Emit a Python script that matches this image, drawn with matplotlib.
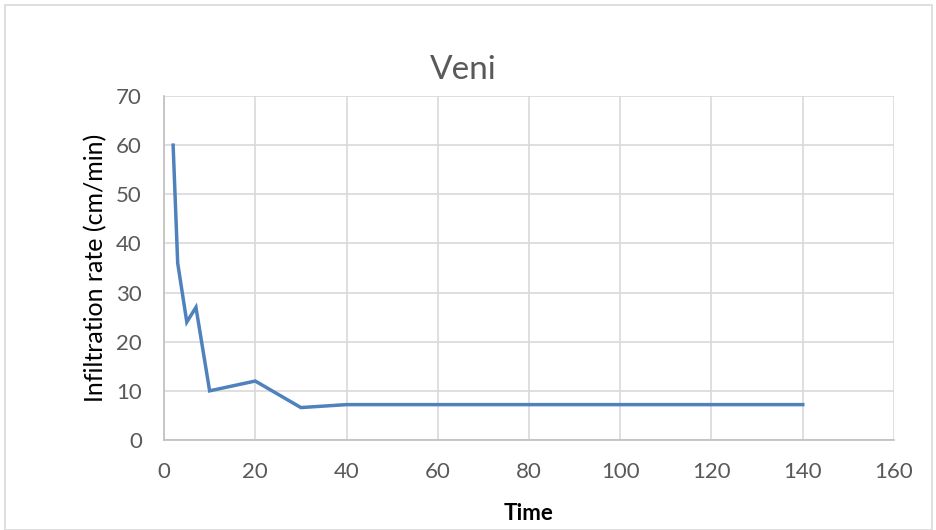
import matplotlib.pyplot as plt
from matplotlib.patches import Rectangle

plt.rcParams['font.family'] = ['Lato', 'DejaVu Sans']

time = [2, 3, 5, 7, 10, 15, 20, 30, 40, 60, 80, 100, 120, 140]
rate = [60, 36, 24, 27, 10, 11, 12, 6.6, 7.2, 7.2, 7.2, 7.2, 7.2, 7.2]
xticks = [0, 20, 40, 60, 80, 100, 120, 140, 160]
yticks = [0, 10, 20, 30, 40, 50, 60, 70]

W, H = 936, 530
fig = plt.figure(figsize=(W / 100, H / 100), dpi=100)
ax = fig.add_axes([164 / W, 1 - 440 / H, (894 - 164) / W, (440 - 96) / H])

# outer chart border
fig.patches.append(Rectangle((5 / W, 0), 927 / W, 1 - 5 / H, transform=fig.transFigure,
                             fill=False, edgecolor='#d9d9d9', linewidth=1.2))

ax.plot(time, rate, color='#4f81bd', linewidth=2.5, solid_joinstyle='miter')

ax.set_xlim(0, 160)
ax.set_ylim(0, 70)
ax.set_xticks(xticks)
ax.set_yticks(yticks)
ax.grid(True, color='#d9d9d9', linewidth=1.2)
ax.set_axisbelow(True)
for s in ['top', 'right']:
    ax.spines[s].set_visible(False)
for s in ['left', 'bottom']:
    ax.spines[s].set_color('#bfbfbf')
    ax.spines[s].set_linewidth(1.2)
ax.tick_params(length=0, labelsize=16, labelcolor='#595959')
ax.tick_params(axis='x', pad=16)
ax.tick_params(axis='y', pad=16)

fig.text(463 / W, 1 - 70 / H, 'Veni', fontsize=24, color='#595959', ha='center', va='center')
ax.set_ylabel('Infiltration rate (cm/min)', fontsize=18, color='black', labelpad=6)
ax.set_xlabel('Time', fontsize=16, fontweight='bold', color='black', labelpad=15)

fig.savefig('out.png', dpi=100)
